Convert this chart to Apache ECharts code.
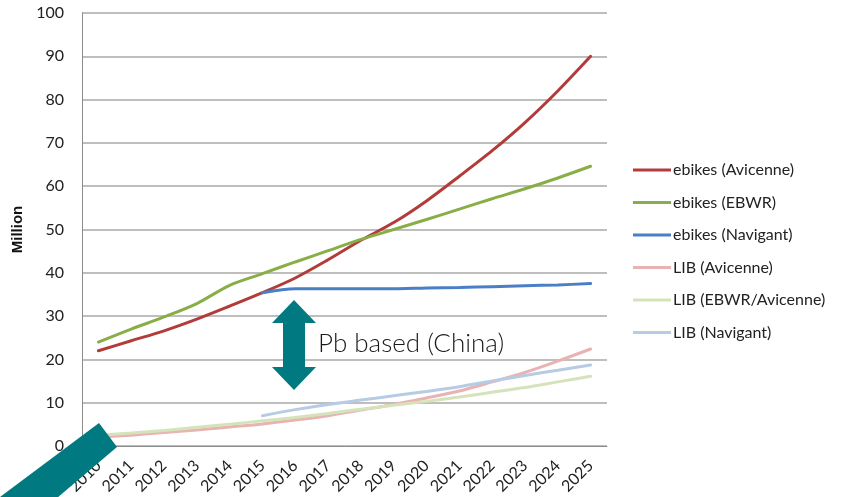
<!DOCTYPE html>
<html>
<head>
<meta charset="utf-8">
<script src="https://cdn.jsdelivr.net/npm/echarts@6/dist/echarts.min.js"></script>
<style>
  html, body { margin: 0; padding: 0; background: #ffffff; }
  #chart { width: 841px; height: 497px; }
</style>
</head>
<body>
<div id="chart"></div>
<script>
// Years on the horizontal axis
var years = ['2010','2011','2012','2013','2014','2015','2016','2017','2018','2019','2020','2021','2022','2023','2024','2025'];

// E-bike sales forecasts (million units)
var ebikesAvicenne = [22.0, 24.3, 26.6, 29.3, 32.3, 35.4, 38.8, 43.0, 47.5, 51.6, 56.6, 62.3, 68.2, 74.7, 82.0, 90.0];
var ebikesEBWR     = [24.0, 27.0, 29.8, 32.9, 37.1, 39.8, 42.5, 45.1, 47.7, 50.0, 52.3, 54.7, 57.1, 59.4, 61.9, 64.6];
var ebikesNavigant = [null, null, null, null, null, 35.4, 36.3, 36.3, 36.3, 36.3, 36.5, 36.6, 36.8, 37.0, 37.2, 37.5];

// Lithium-ion battery e-bike forecasts (million units)
var libAvicenne     = [2.0, 2.5, 3.1, 3.7, 4.4, 5.1, 6.0, 7.0, 8.3, 9.6, 11.1, 12.7, 14.8, 17.0, 19.6, 22.4];
var libEBWRAvicenne = [2.5, 3.0, 3.6, 4.3, 5.0, 5.8, 6.6, 7.5, 8.5, 9.4, 10.3, 11.3, 12.4, 13.5, 14.8, 16.1];
var libNavigant     = [null, null, null, null, null, 7.0, 8.4, 9.6, 10.6, 11.6, 12.6, 13.7, 15.0, 16.3, 17.5, 18.7];

var seriesNames = ['ebikes (Avicenne)', 'ebikes (EBWR)', 'ebikes (Navigant)', 'LIB (Avicenne)', 'LIB (EBWR/Avicenne)', 'LIB (Navigant)'];
var seriesData = [ebikesAvicenne, ebikesEBWR, ebikesNavigant, libAvicenne, libEBWRAvicenne, libNavigant];
var seriesColors = ['#b23c3a', '#8aae47', '#4a7fc6', '#e8b3b2', '#d5e3bb', '#b7cbe5'];

var FONT = 'Lato, "Open Sans", sans-serif';
var teal = '#007a80';

// Double-headed arrow between the e-bike and LIB curves
function doubleArrow(cx, yTop, yBot, headW, headH, shaftW) {
  return [
    [cx, yTop], [cx + headW, yTop + headH], [cx + shaftW, yTop + headH],
    [cx + shaftW, yBot - headH], [cx + headW, yBot - headH], [cx, yBot],
    [cx - headW, yBot - headH], [cx - shaftW, yBot - headH], [cx - shaftW, yTop + headH],
    [cx - headW, yTop + headH]
  ];
}
var arrowPts = doubleArrow(294, 300, 390, 22, 23, 11);

var chart = echarts.init(document.getElementById('chart'), null, { renderer: 'canvas' });

chart.setOption({
  animation: false,
  backgroundColor: '#ffffff',
  grid: { left: 82, right: 234, top: 13, bottom: 50, containLabel: false },
  legend: {
    orient: 'vertical',
    left: 633,
    top: 162,
    padding: 0,
    itemWidth: 38,
    itemHeight: 3,
    itemGap: 16.5,
    icon: 'rect',
    data: seriesNames,
    textStyle: { fontFamily: FONT, fontSize: 16, lineHeight: 16, color: '#222', padding: [0, 0, 0, -3] }
  },
  xAxis: {
    type: 'category',
    data: years,
    boundaryGap: true,
    axisLine: { show: true, lineStyle: { color: '#8c8c8c', width: 1 } },
    axisTick: { show: false },
    axisLabel: {
      rotate: 45,
      interval: 0,
      margin: 17,
      fontFamily: FONT,
      fontSize: 16,
      color: '#222'
    },
    splitLine: { show: false }
  },
  yAxis: {
    type: 'value',
    min: 0,
    max: 100,
    interval: 10,
    name: 'Million',
    nameLocation: 'middle',
    nameGap: 46,
    nameRotate: 90,
    nameTextStyle: { fontFamily: 'Liberation Sans, Arial, sans-serif', fontWeight: 'bold', fontSize: 15, color: '#111' },
    axisLine: { show: true, lineStyle: { color: '#8c8c8c', width: 1 } },
    axisTick: { show: false },
    axisLabel: { fontFamily: FONT, fontSize: 16, color: '#222', margin: 18 },
    splitLine: { show: true, lineStyle: { color: '#a8a8a8', width: 1.5 } }
  },
  series: seriesNames.map(function (name, i) {
    return {
      name: name,
      type: 'line',
      data: seriesData[i],
      smooth: 0.3,
      showSymbol: false,
      symbol: 'none',
      connectNulls: false,
      color: seriesColors[i],
      lineStyle: { width: 3, color: seriesColors[i], cap: 'round' },
      z: i < 3 ? 3 : 2
    };
  }),
  graphic: [
    {
      type: 'polygon',
      z: 100,
      shape: { points: arrowPts },
      style: { fill: teal }
    },
    {
      type: 'text',
      z: 100,
      left: 318,
      top: 331,
      style: {
        text: 'Pb based (China)',
        fontFamily: FONT,
        fontSize: 26,
        fontWeight: 300,
        fill: '#1a1a1a'
      }
    },
    {
      type: 'polygon',
      z: 100,
      shape: { points: [[99, 423], [117, 447], [57, 498], [0, 498], [0, 497]] },
      style: { fill: teal }
    }
  ]
});
</script>
</body>
</html>
